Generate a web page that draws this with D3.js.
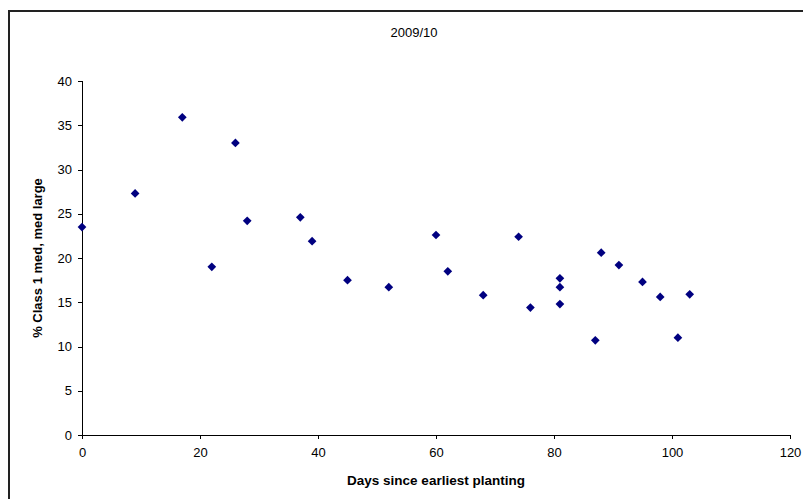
<!DOCTYPE html>
<html lang="en">
  <head>
    <meta charset="UTF-8" />
    <title>2009/10</title>
    <script src="https://d3js.org/d3.v7.min.js"></script>
    <style>
      body { margin: 0; background: #fff; }
      svg { display: block; }
      .axis text { font-family: "Liberation Sans", Arial, sans-serif; font-size: 13px; fill: #000; }
      .axis path, .axis line { stroke: #000; }
    </style>
  </head>
  <body>
    <svg id="chart" width="803" height="499"></svg>
    <script>
      // data
      const days = [0, 9, 17, 22, 26, 28, 37, 39, 45, 52, 60, 62, 68, 74, 76, 81, 81, 81, 87, 88, 91, 95, 98, 101, 103];
      const pctClass1 = [23.5, 27.3, 35.9, 19.0, 33.0, 24.2, 24.6, 21.9, 17.5, 16.7, 22.6, 18.5, 15.8, 22.4, 14.4, 17.7, 16.7, 14.8, 10.7, 20.6, 19.2, 17.3, 15.6, 11.0, 15.9];
      const xTicks = [0, 20, 40, 60, 80, 100, 120];
      const yTicks = [0, 5, 10, 15, 20, 25, 30, 35, 40];

      const width = 803;
      const height = 499;
      const margin = { top: 81, right: 13, bottom: 64, left: 82 };

      const svg = d3.select("#chart");

      // outer chart border (runs off right and bottom)
      svg.append("rect")
        .attr("x", 9).attr("y", 11)
        .attr("width", width).attr("height", height)
        .attr("fill", "none")
        .attr("stroke", "#222")
        .attr("stroke-width", 2);

      const x = d3.scaleLinear().domain([0, 120]).range([margin.left, width - margin.right]);
      const y = d3.scaleLinear().domain([0, 40]).range([height - margin.bottom, margin.top]);

      svg.append("g")
        .attr("class", "axis")
        .attr("transform", `translate(0,${y(0)})`)
        .call(d3.axisBottom(x).tickValues(xTicks).tickSize(4).tickPadding(9).tickSizeOuter(4))
        .call(g => g.selectAll("path, line").attr("shape-rendering", "crispEdges"));

      svg.append("g")
        .attr("class", "axis")
        .attr("transform", `translate(${x(0)},0)`)
        .call(d3.axisLeft(y).tickValues(yTicks).tickSize(4).tickPadding(6).tickSizeOuter(4))
        .call(g => g.selectAll("path, line").attr("shape-rendering", "crispEdges"));

      // title
      svg.append("text")
        .attr("x", 414).attr("y", 37)
        .attr("text-anchor", "middle")
        .style("font-family", "Liberation Sans, Arial, sans-serif")
        .style("font-size", "13px")
        .text("2009/10");

      // axis titles
      svg.append("text")
        .attr("x", (x(0) + x(120)) / 2).attr("y", 485)
        .attr("text-anchor", "middle")
        .style("font-family", "Liberation Sans, Arial, sans-serif")
        .style("font-size", "13.5px")
        .style("font-weight", "bold")
        .text("Days since earliest planting");

      svg.append("text")
        .attr("transform", `translate(42,${(y(0) + y(40)) / 2}) rotate(-90)`)
        .attr("text-anchor", "middle")
        .style("font-family", "Liberation Sans, Arial, sans-serif")
        .style("font-size", "13px")
        .style("font-weight", "bold")
        .text("% Class 1  med, med large");

      // diamond markers
      const diamond = d3.symbol().type(d3.symbolSquare).size(38);
      svg.append("g")
        .selectAll("path")
        .data(days.map((d, i) => [d, pctClass1[i]]))
        .join("path")
        .attr("d", diamond)
        .attr("transform", d => `translate(${x(d[0])},${y(d[1])}) rotate(45)`)
        .attr("fill", "#000080");
    </script>
  </body>
</html>
